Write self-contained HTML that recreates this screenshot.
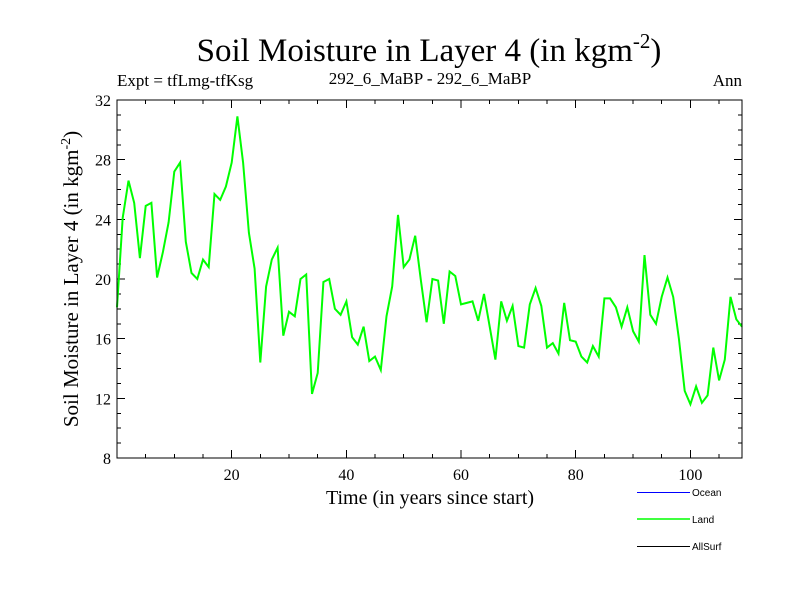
<!DOCTYPE html>
<html><head><meta charset="utf-8"><style>
body{margin:0;background:#fff;}
svg{display:block;font-family:"Liberation Serif",serif;}
</style></head><body>
<svg width="800" height="600">
<text x="429" y="61" font-size="33" text-anchor="middle">Soil Moisture in Layer 4 (in kgm<tspan dy="-13" font-size="21">-2</tspan><tspan dy="13">)</tspan></text>
<text x="117" y="86" font-size="17">Expt = tfLmg-tfKsg</text>
<text x="430" y="84" font-size="17" text-anchor="middle">292_6_MaBP - 292_6_MaBP</text>
<text x="742" y="86" font-size="17" text-anchor="end">Ann</text>
<text transform="translate(78,279) rotate(-90)" font-size="21" text-anchor="middle">Soil Moisture in Layer 4 (in kgm<tspan dy="-8" font-size="14">-2</tspan><tspan dy="8">)</tspan></text>
<text x="430" y="504" font-size="20" text-anchor="middle">Time (in years since start)</text>
<g id="axes" shape-rendering="crispEdges"></g>
<path id="land" fill="none" stroke="#00ff00" stroke-width="2"/>
<rect x="117" y="100" width="625" height="358" fill="none" stroke="#000" stroke-width="1" shape-rendering="crispEdges"/>
<g font-family="Liberation Sans, sans-serif" font-size="10">
<line x1="637" y1="492.5" x2="690" y2="492.5" stroke="#0000ff" shape-rendering="crispEdges"/>
<text x="692" y="496">Ocean</text>
<line x1="637" y1="519" x2="690" y2="519" stroke="#00ff00" stroke-width="1.5"/>
<text x="692" y="523">Land</text>
<line x1="637" y1="546.5" x2="690" y2="546.5" stroke="#000" shape-rendering="crispEdges"/>
<text x="692" y="550">AllSurf</text>
</g>
</svg>
<script>
const landValues=[18.1,24.1,26.6,25.1,21.4,24.9,25.1,20.1,21.8,23.8,27.2,27.8,22.5,20.4,20.0,21.3,20.8,25.7,25.3,26.2,27.8,30.9,27.8,23.1,20.7,14.4,19.5,21.3,22.1,16.2,17.8,17.5,20.0,20.3,12.3,13.7,19.8,20.0,18.0,17.6,18.5,16.1,15.6,16.8,14.5,14.8,13.9,17.5,19.5,24.3,20.8,21.3,22.9,19.9,17.1,20.0,19.9,17.0,20.5,20.2,18.3,18.4,18.5,17.2,19.0,16.8,14.6,18.5,17.2,18.2,15.5,15.4,18.3,19.4,18.2,15.4,15.7,15.0,18.4,15.9,15.8,14.8,14.4,15.5,14.8,18.7,18.7,18.1,16.8,18.1,16.5,15.8,21.6,17.6,17.0,18.8,20.1,18.8,16.0,12.5,11.6,12.8,11.7,12.2,15.4,13.2,14.6,18.8,17.3,16.8];
const xTicks=[20,40,60,80,100];
const yTicks=[8,12,16,20,24,28,32];
const X0=117,X1=742,Y0=458,Y1=100,XMAX=109,YMIN=8,YMAX=32;
function sx(v){return X0+(v/XMAX)*(X1-X0);}
function sy(v){return Y0-(v-YMIN)/(YMAX-YMIN)*(Y0-Y1);}
const NS="http://www.w3.org/2000/svg";
const g=document.getElementById('axes');
function ln(x1,y1,x2,y2,name){const l=document.createElementNS(NS,'line');l.setAttribute('x1',x1);l.setAttribute('y1',y1);l.setAttribute('x2',x2);l.setAttribute('y2',y2);l.setAttribute('stroke','#000');


g.appendChild(l);}
function tx(x,y,s,anchor,name){const t=document.createElementNS(NS,'text');t.setAttribute('x',x);t.setAttribute('y',y);t.setAttribute('font-size','16');t.setAttribute('text-anchor',anchor);t.textContent=s;


g.appendChild(t);}
for(let v=5;v<=XMAX;v+=5){const x=sx(v);const major=v%20===0;const L=major?8:4;ln(x,Y0,x,Y0-L,'x-tick');ln(x,Y1,x,Y1+L,'x-tick-top');}
xTicks.forEach(v=>tx(sx(v),Y0+22,String(v),'middle','x-tick-label'));
for(let v=YMIN;v<=YMAX;v++){const y=sy(v);const major=v%4===0;const L=major?8:4;ln(X0,y,X0+L,y,'y-tick');ln(X1,y,X1-L,y,'y-tick-right');}
yTicks.forEach(v=>tx(X0-6,sy(v)+6,String(v),'end','y-tick-label'));
document.getElementById('land').setAttribute('d',landValues.map((v,i)=>(i?'L':'M')+sx(i).toFixed(1)+','+sy(v).toFixed(1)).join(''));
</script>
</body></html>
